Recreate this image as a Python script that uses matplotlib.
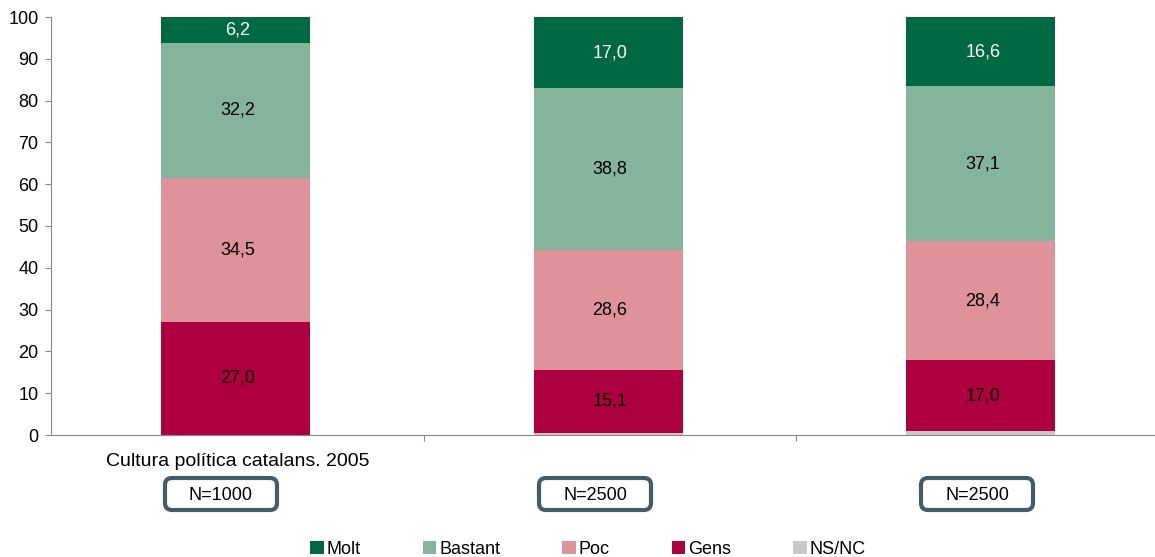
import matplotlib
matplotlib.use("Agg")
import matplotlib.pyplot as plt
from matplotlib.patches import FancyBboxPatch
import numpy as np

plt.rcParams["font.family"] = ["Liberation Sans", "DejaVu Sans"]

series = ["Molt", "Bastant", "Poc", "Gens", "NS/NC"]
colors = ["#006842", "#84B49C", "#E0929A", "#AE003E", "#C8C8C8"]
# stacked bottom-up: NS/NC, Gens, Poc, Bastant, Molt
ns_nc = [0.1, 0.5, 0.9]
gens = [27.0, 15.1, 17.0]
poc = [34.5, 28.6, 28.4]
bastant = [32.2, 38.8, 37.1]
molt = [6.2, 17.0, 16.6]
n_labels = ["N=1000", "N=2500", "N=2500"]
cat_labels = ["Cultura política catalans. 2005", "", ""]

FS = 13
fig = plt.figure(figsize=(11.55, 5.57), dpi=100)
ax = fig.add_axes([51 / 1155, 122 / 557, (1155 - 51) / 1155, 418 / 557])

x = np.arange(3)
w = 0.4
stack = [("NS/NC", ns_nc), ("Gens", gens), ("Poc", poc), ("Bastant", bastant), ("Molt", molt)]
bottom = np.zeros(3)
handles = {}
for name, vals in stack:
    c = colors[series.index(name)]
    b = ax.bar(x - 0.005, vals, w, bottom=bottom, color=c, label=name)
    handles[name] = b
    if name != "NS/NC":
        tc = "white" if name == "Molt" else "black"
        for xi, v, bt in zip(x, vals, bottom):
            ax.text(xi, bt + v / 2, f"{v:.1f}".replace(".", ","), ha="center", va="center",
                    fontsize=FS, color=tc)
    bottom += np.array(vals)

ax.set_xlim(-0.5, -0.5 + (1155 - 51) / 372.7)
ax.set_ylim(0, 100)
ax.set_yticks(range(0, 101, 10))
ax.set_xticks([0.5, 1.5])
ax.set_xticklabels([])
ax.tick_params(axis="y", labelsize=FS, color="#888888", length=4, pad=5)
ax.tick_params(axis="x", color="#888888", length=4)
for s in ["top", "right"]:
    ax.spines[s].set_visible(False)
for s in ["left", "bottom"]:
    ax.spines[s].set_color("#888888")

# category label under first bar
for xi, lab in zip(x, cat_labels):
    if lab:
        fig.text(238 / 1155, 1 - 462 / 557, lab, ha="center", va="center", fontsize=14)

# N boxes (pixel geometry)
n_x = [221, 595, 977]
bw, bh = 112, 32
for px, lab in zip(n_x, n_labels):
    box = FancyBboxPatch(((px - bw / 2) / 100, (557 - 494 - bh / 2) / 100), bw / 100, bh / 100,
                         boxstyle="round,pad=0,rounding_size=0.07",
                         transform=fig.dpi_scale_trans, fc="white", ec="#465B68", lw=3)
    fig.add_artist(box)
    fig.text(px / 1155, 1 - 495 / 557, lab, ha="center", va="center", fontsize=FS)

fig.legend([handles[n] for n in series], series, loc="center", ncol=5,
           bbox_to_anchor=(588 / 1155, 1 - 549 / 557), frameon=False, fontsize=FS,
           handlelength=0.75, handleheight=0.75, handletextpad=0.15, columnspacing=3.45)

fig.savefig("out.png", dpi=100)
